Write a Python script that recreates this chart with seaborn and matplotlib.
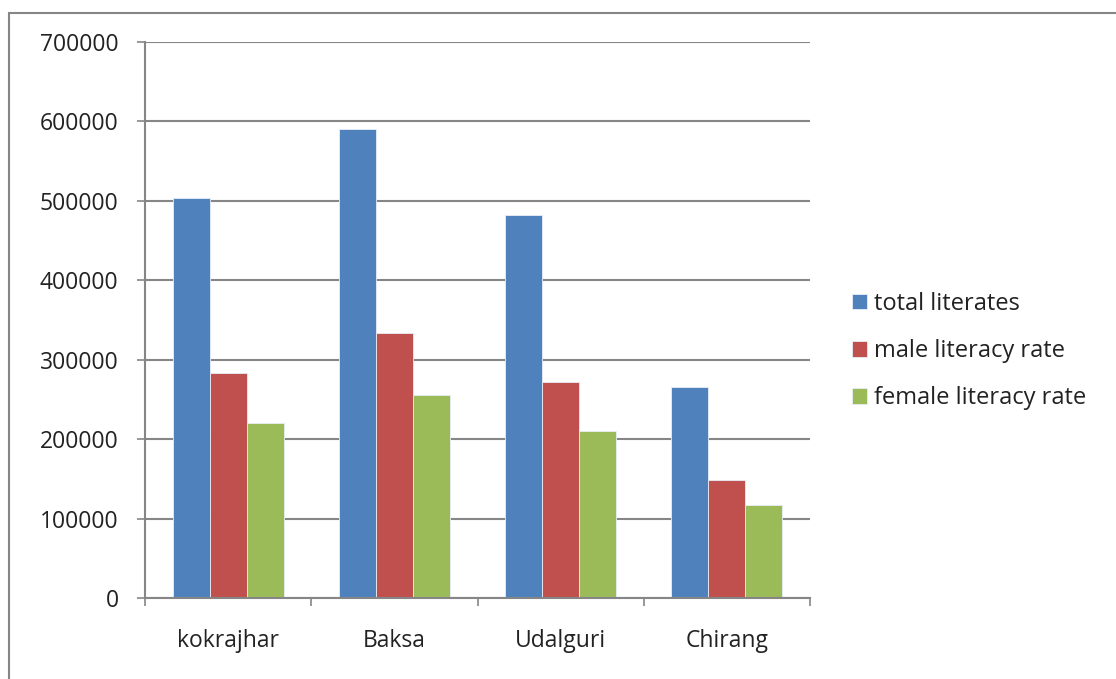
import pandas as pd
import numpy as np
import matplotlib.pyplot as plt
import matplotlib.ticker as mticker
from matplotlib.patches import Rectangle
import seaborn as sns

# literacy figures per district
districts = ['kokrajhar', 'Baksa', 'Udalguri', 'Chirang']
series = ['total literates', 'male literacy rate', 'female literacy rate']
total_literates = [503000, 590000, 482000, 266000]
male_literacy = [283000, 333500, 272000, 148500]
female_literacy = [219800, 255500, 210300, 117000]
colors = ['#4F81BD', '#C0504D', '#9BBB59']

df = pd.DataFrame({
    'District': districts * 3,
    'Series': np.repeat(series, len(districts)),
    'Value': total_literates + male_literacy + female_literacy,
})

sns.set_style('white')
plt.rcParams['font.family'] = ['Open Sans', 'DejaVu Sans']
grid_col = '#868686'
text_col = '#222222'

fig = plt.figure(figsize=(11.16, 6.79), dpi=100)
ax = fig.add_axes([145 / 1116, 1 - 598 / 679, 665 / 1116, 556 / 679])

sns.barplot(data=df, x='District', y='Value', hue='Series', order=districts,
            hue_order=series, palette=colors, saturation=1, width=0.667, gap=0,
            edgecolor='#e8eef7', linewidth=0.6, ax=ax, legend=True)

ax.set_xlim(-0.5, 3.5)
ax.set_ylim(0, 700000)
ax.set_yticks(np.arange(0, 700001, 100000))
ax.yaxis.set_major_formatter(mticker.FuncFormatter(lambda v, p: f'{int(v)}'))
ax.yaxis.grid(True, color=grid_col, linewidth=1.5)
ax.set_axisbelow(True)
ax.set_xlabel('')
ax.set_ylabel('')

for side in ['top', 'right']:
    ax.spines[side].set_visible(False)
for side in ['left', 'bottom']:
    ax.spines[side].set_color(grid_col)
    ax.spines[side].set_linewidth(1.5)

ax.tick_params(axis='y', length=6, width=1.2, color=grid_col, pad=13,
               labelsize=16.5, labelcolor=text_col, left=True)
ax.tick_params(axis='x', which='major', length=0, pad=22,
               labelsize=16.5, labelcolor=text_col)
ax.set_xticks(np.arange(-0.5, 4, 1), minor=True)
ax.tick_params(axis='x', which='minor', length=6, width=1.2, color=grid_col, bottom=True)

handles, labels = ax.get_legend_handles_labels()
ax.legend(handles, labels, loc='center left', bbox_to_anchor=(840 / 1116, 1 - 351 / 679),
          bbox_transform=fig.transFigure, frameon=False, fontsize=17,
          handlelength=0.65, handleheight=0.65, handletextpad=0.3,
          labelspacing=0.98, borderpad=0, labelcolor=text_col)

# outer chart frame, cut off at right and bottom in the reference
fig.patches.append(Rectangle((9 / 1116, -0.1), 1.2, 1.1 - 13 / 679, transform=fig.transFigure,
                             fill=False, edgecolor=grid_col, linewidth=1.5, zorder=0))

fig.savefig('out.png', dpi=100)
